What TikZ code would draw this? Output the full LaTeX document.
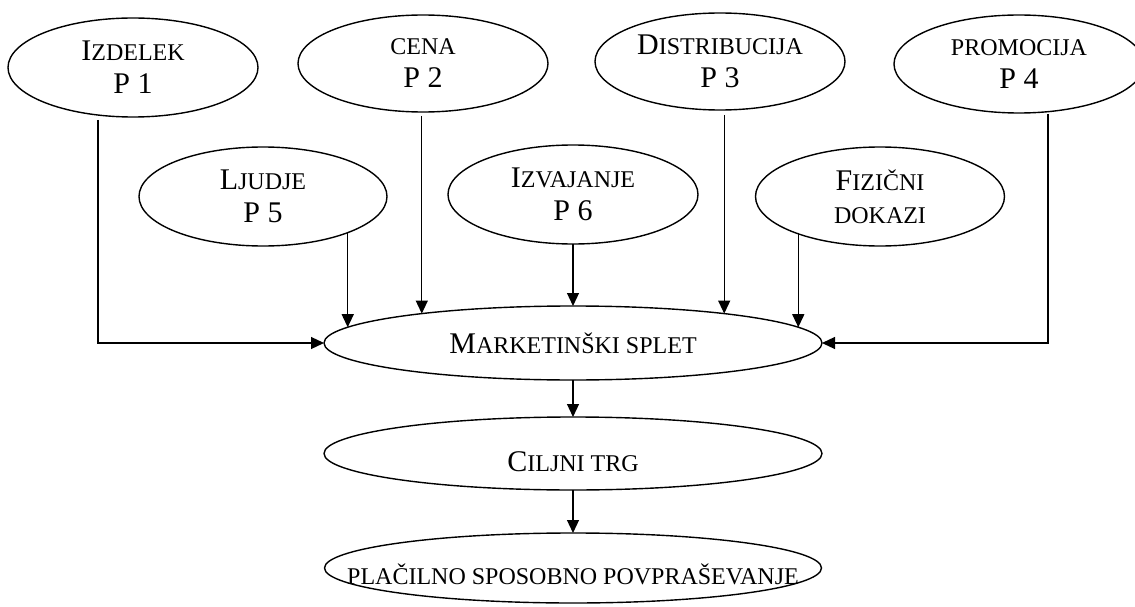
\documentclass[tikz,border=0pt]{standalone}
\usepackage{fontspec}
\setmainfont{Liberation Serif}
\usetikzlibrary{shapes.geometric,arrows.meta}
\newcommand{\sm}[1]{{\fontsize{24}{33}\selectfont #1}}
\tikzset{
  oval/.style={ellipse, draw, line width=1.4pt, inner sep=0pt, outer sep=0pt},
  txt/.style={align=center, inner sep=0pt, font=\fontsize{30}{33}\selectfont},
  arr/.style={line width=1.2pt, -{Triangle[length=13pt,width=12pt]}}
}
\begin{document}
\begin{tikzpicture}[x=1pt,y=-1pt]
\useasboundingbox (0,0) rectangle (1135,607);
% top row
\node[oval, minimum width=250pt, minimum height=99pt, label={[txt,name=izdt]center:I\sm{ZDELEK}\\P 1}] (izd) at (133,67.5) {};
\node[oval, minimum width=250pt, minimum height=97pt, label={[txt,name=cent]center:\sm{CENA}\\P 2}] (cen) at (423,63.5) {};
\node[oval, minimum width=250pt, minimum height=97pt, label={[txt,name=dist]center:D\sm{ISTRIBUCIJA}\\P 3}] (dis) at (720,61.5) {};
\node[oval, minimum width=250pt, minimum height=98pt, label={[txt,name=prot]center:\sm{PROMOCIJA}\\P 4}] (pro) at (1019,64) {};
% second row
\node[oval, minimum width=248pt, minimum height=99pt, label={[txt,name=ljut]center:L\sm{JUDJE}\\P 5}] (lju) at (263,196.5) {};
\node[oval, minimum width=250pt, minimum height=99pt, label={[txt,name=izvt]center:I\sm{ZVAJANJE}\\P 6}] (izv) at (573,194.5) {};
\node[oval, minimum width=249pt, minimum height=99pt, label={[txt,name=fizt]center:F\sm{IZIČNI}\\\sm{DOKAZI}}] (fiz) at (880,196.5) {};
% chain
\node[oval, minimum width=498pt, minimum height=74pt, label={[txt,name=mst]center:M\sm{ARKETINŠKI SPLET}}] (ms) at (573,343) {};
\node[oval, minimum width=498pt, minimum height=73pt, label={[txt,name=ctt,yshift=-8pt]center:C\sm{ILJNI TRG}}] (ct) at (573,453.5) {};
\node[oval, minimum width=497pt, minimum height=70pt, label={[txt,name=plt,yshift=-6pt]center:\sm{PLAČILNO SPOSOBNO POVPRAŠEVANJE}}] (pl) at (573,568) {};
% connectors
\draw[arr] ([xshift=-35pt,yshift=-3pt]izd.south) |- (ms.west);
\draw[arr] ([xshift=29pt,yshift=-1pt]pro.south) |- (ms.east);
\draw[arr] ([yshift=-4pt]ms.169.2 |- cen.south) -- (ms.169.2);
\draw[arr] ([yshift=-5pt]ms.11.25 |- dis.south) -- (ms.11.25);
\draw[arr] (ms.176 |- lju.-23) -- (ms.176);
\draw[arr] (ms.4.5 |- fiz.203) -- (ms.4.5);
\draw[arr] (izv.south) -- (ms.north);
\draw[arr] (ms.south) -- (ct.north);
\draw[arr] (ct.south) -- (pl.north);
\end{tikzpicture}
\end{document}
